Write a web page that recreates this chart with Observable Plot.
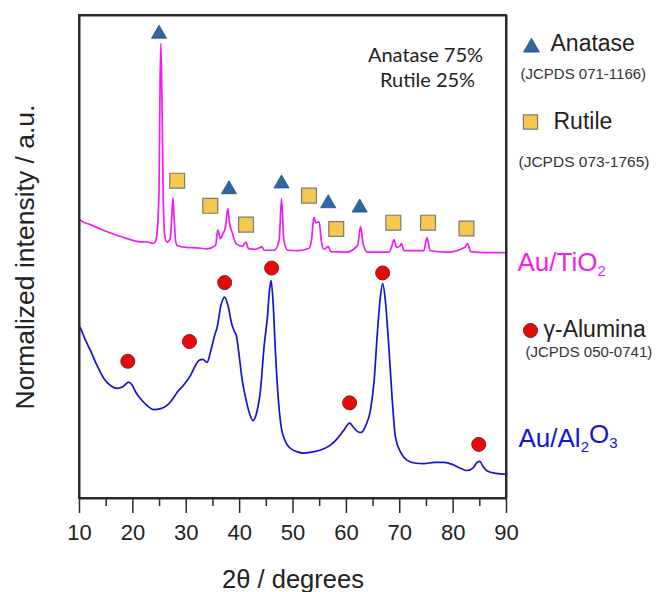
<!DOCTYPE html>
<html>
<head>
<meta charset="utf-8">
<script src="https://cdn.jsdelivr.net/npm/d3@7"></script>
<script src="https://cdn.jsdelivr.net/npm/@observablehq/plot@0.6"></script>
<style>
  html, body { margin: 0; padding: 0; background: #fff; overflow: hidden; }
  #chart svg { display: block; }
</style>
</head>
<body>
<div id="chart"></div>
<script>
// ---- Data (intensity in normalized a.u.) ----
const tio2Theta = [10.0, 10.2, 12, 14.6, 16.5, 18.9, 21, 22.7, 23.9, 24.3, 24.55, 24.9, 25.1, 25.25, 25.45, 25.7, 26.0, 26.4, 27.0, 27.3, 27.5, 27.7, 28.0, 28.3, 30, 32, 33.9, 35.5, 35.9, 36.2, 36.4, 36.9, 37.3, 37.8, 38.1, 38.6, 39.4, 40.5, 41.2, 41.6, 43, 44.2, 44.6, 46.5, 47.4, 47.85, 48.3, 49, 51, 53.0, 53.5, 53.9, 54.3, 54.9, 55.3, 55.8, 56.6, 57.1, 60, 62.1, 62.65, 63.2, 64, 68, 68.5, 68.9, 69.4, 70.0, 70.3, 70.8, 74.5, 75.1, 75.7, 79, 82.2, 82.7, 83.3, 86, 90];
const tio2Intensity = [57.8, 57.6, 56.7, 55.5, 54.7, 53.8, 53.2, 53.1, 52.8, 53.4, 55.1, 63.8, 86.5, 94.2, 82.4, 61.7, 54.2, 53.1, 53.8, 58.6, 62.3, 58.6, 53.4, 52.4, 52.0, 51.9, 51.7, 52.4, 55.6, 54.5, 53.8, 54.9, 55.9, 60.0, 57.1, 55.1, 52.7, 52.2, 53.1, 51.8, 51.6, 52.1, 51.4, 51.4, 53.4, 62.1, 53.4, 51.4, 51.3, 51.8, 53.8, 58.2, 57.1, 57.3, 53.4, 51.6, 52.2, 51.1, 51.0, 52.4, 56.3, 52.4, 51.0, 51.0, 52.2, 53.6, 52.0, 52.2, 52.8, 51.3, 51.3, 54.0, 51.3, 51.0, 52.0, 52.8, 51.1, 50.9, 50.9];

const al2o3Theta = [10.0, 10.2, 11, 12.06, 13.3, 14.6, 15.8, 17.1, 18.2, 19.2, 19.8, 20.6, 21.4, 22.6, 23.9, 25.2, 26.4, 27.4, 28.3, 29.6, 30.8, 31.8, 32.4, 33.1, 33.9, 34.6, 35.3, 35.8, 36.5, 37.2, 37.8, 38.6, 39.1, 39.4, 39.8, 40.5, 41.1, 41.8, 42.5, 43.2, 43.9, 44.6, 45.2, 45.6, 45.9, 46.3, 46.7, 47.2, 47.7, 48.5, 49.5, 50.7, 52.0, 54, 55.8, 57.2, 58.3, 59.5, 60.6, 61.5, 62.4, 62.8, 63.7, 64.5, 65.2, 65.8, 66.3, 66.8, 67.3, 68.0, 68.6, 69.2, 70.2, 71.4, 73, 74.5, 76.5, 78.3, 80, 81.5, 82.6, 83.8, 84.5, 85.0, 85.6, 86.4, 88, 90];
const al2o3Intensity = [35.6, 35.2, 33.1, 30.6, 27.5, 24.8, 23.4, 22.8, 23.2, 24.1, 23.6, 21.9, 20.7, 19.3, 18.4, 18.6, 19.3, 20.5, 22.0, 23.6, 25.5, 27.7, 28.6, 28.8, 28.2, 30.6, 33.7, 35.5, 40.0, 41.7, 40.0, 35.8, 34.4, 33.7, 30.6, 24.4, 21.0, 17.8, 16.1, 17.8, 22.4, 31.7, 37.5, 43.1, 45.1, 40.0, 30.6, 21.3, 15.5, 12.0, 10.4, 9.7, 9.4, 9.7, 10.3, 11.2, 12.4, 14.1, 15.6, 14.5, 13.7, 13.7, 15.3, 18.2, 24.4, 34.2, 41.0, 44.5, 41.0, 30.6, 20.3, 12.7, 9.5, 7.9, 7.3, 7.2, 7.5, 7.5, 7.0, 6.2, 5.8, 6.4, 7.5, 7.7, 6.6, 5.7, 5.2, 5.0];

const anataseTheta = [24.9, 38.0, 47.85, 56.6, 62.5];
const anataseMark  = [96.2, 64.0, 65.2, 61.1, 60.2];
const rutileTheta  = [28.3, 34.5, 41.2, 53.0, 58.1, 68.8, 75.3, 82.5];
const rutileMark   = [65.8, 60.6, 56.7, 62.7, 55.8, 57.1, 57.1, 55.9];
const aluminaTheta = [19.05, 30.6, 37.2, 46.0, 60.6, 66.8, 84.8];
const aluminaMark  = [28.4, 32.5, 44.7, 47.7, 19.8, 46.7, 11.2];

const xTicksMajor = [10, 20, 30, 40, 50, 60, 70, 80, 90];
const xTicksMinor = [15, 25, 35, 45, 55, 65, 75, 85];
const xDomain = [10, 90];
const yDomain = [0, 100];

const phaseText = ["Anatase 75%", "Rutile 25%"];
const legendNames = ["Anatase", "Rutile", "γ-Alumina"];
const legendRefs = ["(JCPDS 071-1166)", "(JCPDS 073-1765)", "(JCPDS 050-0741)"];
const sampleNames = ["Au/TiO_2", "Au/Al_2O_3"];
const xLabel = "2θ / degrees";
const yLabel = "Normalized intensity / a.u.";

// ---- Build tables ----
const tio2 = tio2Theta.map((t, i) => ({theta: t, I: tio2Intensity[i]}));
const al2o3 = al2o3Theta.map((t, i) => ({theta: t, I: al2o3Intensity[i]}));
const anatase = anataseTheta.map((t, i) => ({theta: t, I: anataseMark[i]}));
const rutile = rutileTheta.map((t, i) => ({theta: t, I: rutileMark[i]}));
const alumina = aluminaTheta.map((t, i) => ({theta: t, I: aluminaMark[i]}));

const MAG = "#f01cf0", BLUE = "#1414d6";
const TRI = "#2f67a1", SQ = "#f7c84e", RED = "#e50b0b";
const AX = "#2a2a2a";
const ARIAL = "Liberation Sans, Arial, sans-serif";

const legendText = (txt, dx, dy, size, fill, font = ARIAL) =>
  Plot.text([txt], {frameAnchor: "top-right", textAnchor: "start", lineAnchor: "middle",
    dx, dy, fontSize: size, fill, fontFamily: font, text: d => d});

const chart = Plot.plot({
  width: 657, height: 592,
  marginLeft: 79, marginRight: 151, marginTop: 15, marginBottom: 94,
  style: {fontFamily: ARIAL, background: "#fff", overflow: "visible"},
  x: {domain: xDomain},
  y: {domain: yDomain, axis: null},
  marks: [
    Plot.axisX({ticks: xTicksMinor, tickSize: 8, tickFormat: () => "", label: null, stroke: AX, strokeWidth: 1.5}),
    Plot.axisX({ticks: xTicksMajor, tickSize: 15, tickPadding: 11, fontSize: 22, label: null, stroke: AX, strokeWidth: 1.5, fill: "#222"}),
    Plot.line(tio2, {x: "theta", y: "I", stroke: MAG, strokeWidth: 1.7, curve: "monotone-x"}),
    Plot.line(al2o3, {x: "theta", y: "I", stroke: BLUE, strokeWidth: 1.7, curve: "monotone-x"}),
    Plot.dot(anatase, {x: "theta", y: "I", symbol: "triangle", r: 5.6, fill: TRI, stroke: "#244f7d", strokeWidth: 0.8}),
    Plot.dot(rutile, {x: "theta", y: "I", symbol: "square", r: 8.4, fill: SQ, stroke: "#7a7a7a", strokeWidth: 1.2}),
    Plot.dot(alumina, {x: "theta", y: "I", symbol: "circle", r: 7, fill: RED, stroke: "#8a1a1a", strokeWidth: 1}),
    // inner annotation
    Plot.text([phaseText[0]], {frameAnchor: "top-right", textAnchor: "middle", lineAnchor: "middle", dx: -81, dy: 40, fontSize: 20, fontFamily: "Lato, sans-serif", fill: "#222", text: d => d}),
    Plot.text([phaseText[1]], {frameAnchor: "top-right", textAnchor: "middle", lineAnchor: "middle", dx: -79, dy: 65, fontSize: 20, fontFamily: "Lato, sans-serif", fill: "#222", text: d => d}),
    // legend symbols
    Plot.dot([0], {frameAnchor: "top-right", dx: 25, dy: 32, symbol: "triangle", r: 5.9, fill: TRI, stroke: "#244f7d", strokeWidth: 0.8}),
    Plot.dot([0], {frameAnchor: "top-right", dx: 24, dy: 106.5, symbol: "square", r: 8, fill: SQ, stroke: "#7a7a7a", strokeWidth: 1.2}),
    Plot.dot([0], {frameAnchor: "top-right", dx: 24, dy: 315, symbol: "circle", r: 7, fill: RED, stroke: "#8a1a1a", strokeWidth: 1}),
    // legend texts
    legendText(legendNames[0], 44, 28, 23, "#222"),
    legendText(legendRefs[0], 14, 59, 15, "#333"),
    legendText(legendNames[1], 47, 106.5, 23, "#222"),
    legendText(legendRefs[1], 12, 147, 15.5, "#333"),
    legendText(sampleNames[0], 11, 247, 26, MAG),
    legendText(legendNames[2], 37, 314, 23, "#222"),
    legendText(legendRefs[2], 19, 337, 15, "#333"),
    legendText(sampleNames[1], 12, 423, 26, BLUE),
    // axis labels
    Plot.text([xLabel], {frameAnchor: "bottom", textAnchor: "middle", lineAnchor: "middle", dy: 81, fontSize: 25.5, fill: "#222", text: d => d}),
    Plot.text([yLabel], {frameAnchor: "left", textAnchor: "middle", rotate: -90, lineAnchor: "middle", dx: -54, fontSize: 26.5, fill: "#222", text: d => d}),
    // plot box (drawn last, on top)
    Plot.rect([0], {x1: () => xDomain[0], x2: () => xDomain[1], y1: () => yDomain[0], y2: () => yDomain[1], fill: "none", stroke: AX, strokeWidth: 2}),
    Plot.ruleX([xDomain[0], xDomain[1]], {y1: yDomain[0], y2: yDomain[1], stroke: AX, strokeWidth: 2}),
    Plot.ruleY([yDomain[0], yDomain[1]], {x1: xDomain[0], x2: xDomain[1], stroke: AX, strokeWidth: 2})
  ]
});

// subscripts: "_2" -> lowered small digit
d3.select(chart).selectAll("text").each(function() {
  const t = this.textContent;
  if (!t.includes("_")) return;
  const sel = d3.select(this);
  sel.text("");
  const parts = t.split(/(_\d)/).filter(s => s.length);
  let shifted = false;
  for (const p of parts) {
    if (p.startsWith("_")) {
      sel.append("tspan").attr("dy", "0.35em").attr("font-size", "15").text(p.slice(1));
      shifted = true;
    } else {
      const ts = sel.append("tspan").text(p);
      if (shifted) { ts.attr("dy", "-0.35em"); }
      shifted = false;
    }
  }
});

document.getElementById("chart").appendChild(chart);
</script>
</body>
</html>
